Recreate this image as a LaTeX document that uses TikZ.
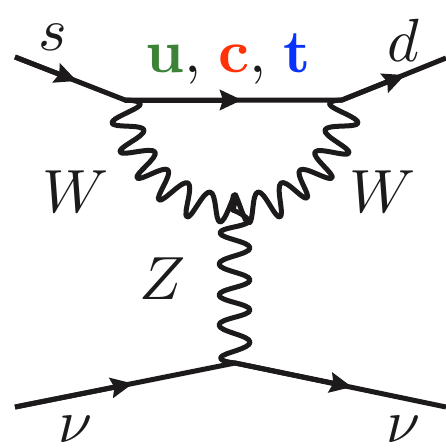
\documentclass[tikz,border=0pt]{standalone}
\usetikzlibrary{arrows.meta}
\definecolor{ugreen}{RGB}{60,130,55}
\definecolor{cred}{RGB}{255,50,10}
\definecolor{tblue}{RGB}{10,50,255}
\definecolor{ink}{RGB}{28,26,26}
\tikzset{
  fermion/.style={line width=5pt,draw=ink},
  arrowed/.style={fermion,-{Stealth[length=22pt,width=20pt,inset=3pt,fill=ink]}},
  wiggle/.style={line width=5pt,draw=ink,line join=round,line cap=round,smooth,tension=0.75},
  lab/.style={scale=6.1,text=ink,inner sep=0pt,outer sep=0pt}
}
\begin{document}
\begin{tikzpicture}[x=1pt,y=-1pt]
\useasboundingbox (0,0) rectangle (446,448);
\coordinate (sin) at (15,57);
\coordinate (v1) at (125,100);
\coordinate (v2) at (342,100);
\coordinate (dout) at (446,58);
\coordinate (v3) at (233,210);
\coordinate (v4) at (235,363);
\coordinate (nin) at (15,407);
\coordinate (nout) at (446,407);
\coordinate (a1) at (77,81);
\coordinate (a2) at (242,100);
\coordinate (a3) at (405,75);
\coordinate (a4) at (133,383.5);
\coordinate (a5) at (352,387);
% fermions
\draw[fermion] (sin) -- (v1) -- (v2) -- (dout);
\draw[fermion] (nin) -- (v4) -- (nout);
\draw[arrowed] (sin) -- (a1);
\draw[arrowed] (v1) -- (a2);
\draw[arrowed] (v2) -- (a3);
\draw[arrowed] (nin) -- (a4);
\draw[arrowed] (v4) -- (a5);
% W bosons
\draw[wiggle] plot coordinates {(v1) (140,105) (112,123) (144,130) (120,152) (155,152) (137,178) (168,170) (159,200) (188,183) (187,217) (210,192) (220,222) (235,195) (v3)};
\draw[wiggle] plot coordinates {(v2) (330,105) (358,123) (325,130) (349,153) (315,152) (332,178) (300,170) (307,198) (281,183) (280,217) (258,192) (249,223) (235,195) (v3)};
% Z boson
\draw[wiggle] plot coordinates {(v3) (248,222) (220,233) (250,248) (219,264) (250,280) (219,295) (250,310) (219,325) (250,342) (221,357) (v4)};
% labels
\node[lab,anchor=base] (ls) at (53,50) {$s$};
\node[lab,anchor=base] (ld) at (403,61) {$d$};
\node[lab,anchor=base] (lw1) at (76,212) {$W$};
\node[lab,anchor=base] (lw2) at (383,212) {$W$};
\node[lab,anchor=base] (lz) at (163,299) {$Z$};
\node[lab,anchor=base] (ln1) at (76,442) {$\nu$};
\node[lab,anchor=base] (ln2) at (404,442) {$\nu$};
\node[lab,anchor=base] (luct) at (228,72) {$\mathbf{\color{ugreen}u},\mskip2mu\mathbf{\color{cred}c},\mskip2mu\mathbf{\color{tblue}t}$};
\end{tikzpicture}
\end{document}
